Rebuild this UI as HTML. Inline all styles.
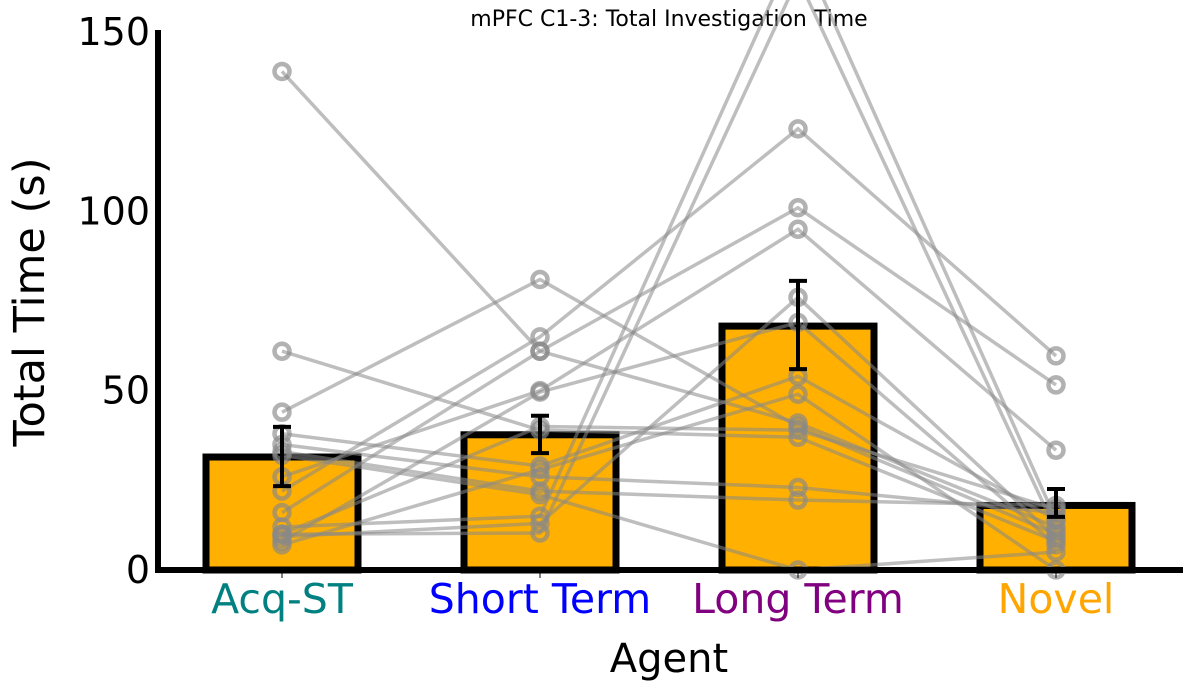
<!DOCTYPE html>
<html><head><meta charset="utf-8"><style>body{margin:0;background:#fff}svg{display:block;font-family:"DejaVu Sans","Liberation Sans",sans-serif}</style></head>
<body>
<svg id="chart" width="1189" height="690" xmlns="http://www.w3.org/2000/svg">
<text x="669" y="26" font-size="22" text-anchor="middle">mPFC C1-3: Total Investigation Time</text>
<g id="bars"></g><g id="lines"></g><g id="errs"></g><g id="axes"></g>
<text x="669" y="672" font-size="40" text-anchor="middle">Agent</text>
<text transform="translate(44,302) rotate(-90)" font-size="43" text-anchor="middle">Total Time (s)</text>
</svg>
<script>
const categories=["Acq-ST","Short Term","Long Term","Novel"];
const catColors=["#008080","#0000ff","#800080","#ffa500"];
const means=[31.5,37.7,68,18];
const errLow=[23.4,32.6,56,14.8];
const errHigh=[39.9,43,80.6,22.6];
const acq=[139,61,44,38,35,33,32,26,22,16,12,10,9.3,8,7,10];
const st=[61,39,81,29,26,22,21,50,65,61,15,10.3,13,49.6,28,40];
const lt=[41,37,40,54,23,19.5,0,95,123,101,175,165,76,69,49,39];
const nov=[12,8,10,14,16,18,5,33.4,59.7,51.6,14,11,9,7,0,17];
const yTicks=[0,50,100,150];
const NS="http://www.w3.org/2000/svg";
const X=i=>282+i*258, Y=v=>570-v*538/150;
function mk(g,tag,a){const e=document.createElementNS(NS,tag);for(const k in a)e.setAttribute(k,a[k]);document.getElementById(g).appendChild(e);return e;}
means.forEach((m,i)=>{const r=mk('bars','rect',{x:X(i)-76,y:Y(m),width:152,height:570-Y(m),fill:'#ffb000',stroke:'#000','stroke-width':7});

});
const series=[acq,st,lt,nov];
for(let s=0;s<acq.length;s++){
 const pts=series.map((a,i)=>X(i)+','+Y(a[s])).join(' ');
 const pl=mk('lines','polyline',{points:pts,fill:'none',stroke:'#888','stroke-opacity':0.55,'stroke-width':3.5});
 
 
 series.forEach((a,i)=>{const c=mk('lines','circle',{cx:X(i),cy:Y(a[s]),r:7.5,fill:'none',stroke:'#888','stroke-opacity':0.65,'stroke-width':4.5});
 
 });
}
means.forEach((m,i)=>{const x=X(i);
 const l=mk('errs','line',{x1:x,x2:x,y1:Y(errLow[i]),y2:Y(errHigh[i]),stroke:'#000','stroke-width':4});
 
 
 [errLow[i],errHigh[i]].forEach(v=>{const c=mk('errs','line',{x1:x-9,x2:x+9,y1:Y(v),y2:Y(v),stroke:'#000','stroke-width':4});
 
 });
 const t=mk('axes','text',{x:x,y:613,'font-size':41,'text-anchor':'middle',fill:catColors[i]});t.textContent=categories[i];
 
 
 mk('axes','line',{x1:x,x2:x,y1:573,y2:578,stroke:'#000','stroke-width':1});
});
yTicks.forEach(v=>{const t=mk('axes','text',{x:150,y:Y(v)+13,'font-size':38,'text-anchor':'end'});t.textContent=v;
 
 });
const ya=mk('axes','line',{x1:158,x2:158,y1:30,y2:573,stroke:'#000','stroke-width':6});


const xa=mk('axes','line',{x1:155,x2:1183,y1:570,y2:570,stroke:'#000','stroke-width':6});


</script>
</body></html>
